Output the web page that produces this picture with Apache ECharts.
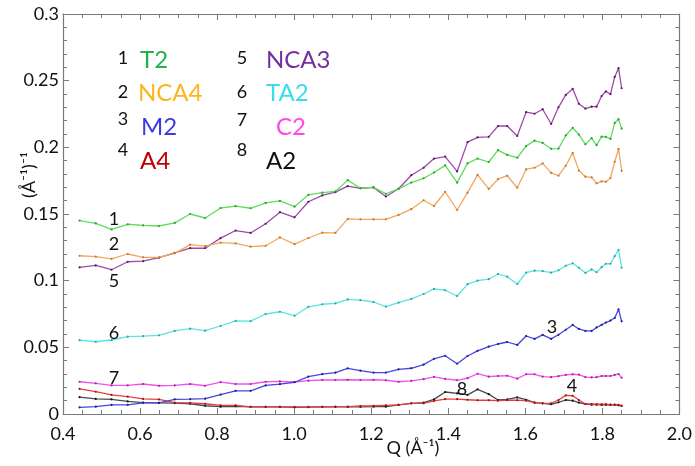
<!DOCTYPE html>
<html>
<head>
<meta charset="utf-8">
<script src="https://cdn.jsdelivr.net/npm/echarts@6/dist/echarts.min.js"></script>
<style>
html, body { margin: 0; padding: 0; background: #ffffff; }
#chart { width: 695px; height: 466px; }
</style>
</head>
<body>
<div id="chart"></div>
<script>
// Scattering vector Q (Å^-1) at which each sample was measured
const q = [0.443,0.485,0.526,0.568,0.608,0.649,0.690,0.730,0.769,0.809,0.848,0.887,0.926,0.963,1.001,1.037,1.073,1.107,1.139,1.172,1.206,1.238,1.271,1.304,1.336,1.363,1.392,1.423,1.450,1.476,1.505,1.529,1.553,1.579,1.602,1.624,1.645,1.667,1.686,1.705,1.723,1.739,1.756,1.772,1.785,1.798,1.809,1.821,1.832,1.842,1.850];

// Inverse correlation length (Å^-1)^-1 for each sample
const t2   = [0.1451,0.1429,0.1384,0.1423,0.1414,0.1410,0.1433,0.1500,0.1470,0.1545,0.1559,0.1543,0.1583,0.1598,0.1555,0.1644,0.1660,0.1669,0.1754,0.1693,0.1700,0.1652,0.1689,0.1736,0.1768,0.1811,0.1865,0.1735,0.1880,0.1916,0.1890,0.1979,0.1943,0.1922,0.2009,0.2050,0.2033,0.1989,0.1990,0.2089,0.2147,0.2096,0.2023,0.2069,0.2016,0.2080,0.2079,0.2063,0.2183,0.2211,0.2141];
const nca4 = [0.1187,0.1180,0.1164,0.1200,0.1175,0.1175,0.1205,0.1270,0.1259,0.1286,0.1279,0.1255,0.1262,0.1324,0.1274,0.1320,0.1361,0.1358,0.1463,0.1460,0.1459,0.1460,0.1493,0.1536,0.1603,0.1560,0.1667,0.1530,0.1660,0.1793,0.1688,0.1761,0.1787,0.1697,0.1834,0.1847,0.1880,0.1808,0.1787,0.1862,0.1958,0.1826,0.1780,0.1775,0.1730,0.1745,0.1742,0.1770,0.1892,0.1988,0.1824];
const m2   = [0.0050,0.0055,0.0068,0.0069,0.0084,0.0083,0.0110,0.0111,0.0115,0.0145,0.0174,0.0174,0.0214,0.0224,0.0238,0.0281,0.0299,0.0310,0.0343,0.0325,0.0311,0.0311,0.0335,0.0343,0.0370,0.0414,0.0437,0.0377,0.0435,0.0474,0.0505,0.0525,0.0540,0.0518,0.0585,0.0563,0.0594,0.0563,0.0594,0.0632,0.0668,0.0638,0.0623,0.0623,0.0649,0.0668,0.0686,0.0701,0.0720,0.0785,0.0695];
const a4   = [0.0188,0.0167,0.0143,0.0130,0.0113,0.0109,0.0085,0.0083,0.0077,0.0065,0.0065,0.0054,0.0053,0.0053,0.0053,0.0053,0.0054,0.0055,0.0056,0.0060,0.0062,0.0065,0.0068,0.0080,0.0080,0.0098,0.0111,0.0111,0.0107,0.0103,0.0103,0.0100,0.0103,0.0103,0.0100,0.0085,0.0080,0.0080,0.0105,0.0140,0.0137,0.0105,0.0075,0.0075,0.0073,0.0073,0.0073,0.0070,0.0070,0.0068,0.0062];
const nca3 = [0.1099,0.1114,0.1082,0.1142,0.1146,0.1172,0.1208,0.1244,0.1243,0.1319,0.1376,0.1358,0.1427,0.1514,0.1475,0.1592,0.1639,0.1664,0.1709,0.1693,0.1699,0.1631,0.1689,0.1791,0.1847,0.1916,0.1931,0.1819,0.2039,0.2075,0.2079,0.2160,0.2160,0.2085,0.2264,0.2252,0.2286,0.2175,0.2300,0.2393,0.2439,0.2327,0.2290,0.2305,0.2305,0.2385,0.2419,0.2399,0.2528,0.2594,0.2443];
const ta2  = [0.0554,0.0542,0.0555,0.0580,0.0584,0.0590,0.0623,0.0640,0.0625,0.0660,0.0698,0.0696,0.0750,0.0767,0.0737,0.0804,0.0823,0.0829,0.0859,0.0854,0.0840,0.0806,0.0835,0.0863,0.0900,0.0938,0.0928,0.0885,0.0974,0.1000,0.1011,0.1050,0.1030,0.0975,0.1061,0.1075,0.1071,0.1060,0.1078,0.1112,0.1130,0.1097,0.1058,0.1085,0.1063,0.1101,0.1127,0.1127,0.1184,0.1232,0.1097];
const c2   = [0.0242,0.0230,0.0214,0.0214,0.0225,0.0212,0.0214,0.0225,0.0212,0.0239,0.0225,0.0225,0.0242,0.0244,0.0240,0.0250,0.0255,0.0255,0.0257,0.0255,0.0257,0.0253,0.0242,0.0248,0.0261,0.0279,0.0264,0.0253,0.0269,0.0302,0.0280,0.0285,0.0287,0.0265,0.0298,0.0298,0.0281,0.0276,0.0284,0.0293,0.0298,0.0295,0.0276,0.0274,0.0276,0.0285,0.0285,0.0285,0.0293,0.0300,0.0272];
const a2   = [0.0126,0.0113,0.0110,0.0094,0.0085,0.0083,0.0081,0.0077,0.0062,0.0055,0.0058,0.0054,0.0053,0.0053,0.0050,0.0051,0.0053,0.0053,0.0053,0.0054,0.0055,0.0055,0.0068,0.0080,0.0085,0.0110,0.0165,0.0154,0.0143,0.0185,0.0149,0.0105,0.0109,0.0124,0.0107,0.0085,0.0080,0.0073,0.0088,0.0105,0.0100,0.0085,0.0075,0.0070,0.0070,0.0068,0.0070,0.0068,0.0068,0.0065,0.0062];

// Sample names and their curve numbers
const sampleNames   = ['T2', 'NCA4', 'M2', 'A4', 'NCA3', 'TA2', 'C2', 'A2'];
const sampleNumbers = ['1', '2', '3', '4', '5', '6', '7', '8'];
const sampleValues  = [t2, nca4, m2, a4, nca3, ta2, c2, a2];

// Axis ranges and tick steps
const xRange = [0.4, 2.0, 0.2];
const yRange = [0, 0.3, 0.05];

const FONT = 'Lato, "Open Sans", sans-serif';

// line colour, point colour, name colour
const palette = [
  ['#5bdf5b', '#2f9e2f', '#22b14c'],
  ['#f3a660', '#c4782e', '#ffb41f'],
  ['#4646de', '#1d1d9a', '#3b3be0'],
  ['#e54040', '#9e1414', '#c00000'],
  ['#9d4ba7', '#5a1a62', '#70309f'],
  ['#5ce3e3', '#2aa6a6', '#38dfe8'],
  ['#f052f0', '#b0209e', '#ff48e6'],
  ['#4a4a4a', '#111111', '#111111']
];

const series = sampleValues.map((vals, i) => ({
  name: sampleNames[i],
  type: 'line',
  data: q.map((x, k) => [x, vals[k]]),
  symbol: 'circle',
  symbolSize: 2.2,
  showSymbol: true,
  lineStyle: { color: palette[i][0], width: 1.3 },
  itemStyle: { color: palette[i][1] },
  z: 3 + (7 - i),
  silent: true,
  animation: false
}));

const tickColor = '#7a7a7a';
function makeX(pos, labels) {
  return {
    type: 'value', position: pos,
    min: xRange[0], max: xRange[1], interval: xRange[2],
    axisLine: { show: true, onZero: false, lineStyle: { color: tickColor, width: 1.2 } },
    axisTick: { show: true, inside: true, length: 6, lineStyle: { color: tickColor } },
    minorTick: { show: true, splitNumber: 4, length: 4, lineStyle: { color: tickColor } },
    splitLine: { show: false },
    axisLabel: labels ? {
      show: true, color: '#111', fontSize: 18, fontFamily: FONT, margin: 11,
      formatter: v => v.toFixed(1)
    } : { show: false }
  };
}
function makeY(pos, labels) {
  return {
    type: 'value', position: pos,
    min: yRange[0], max: yRange[1], interval: yRange[2],
    axisLine: { show: true, onZero: false, lineStyle: { color: tickColor, width: 1.2 } },
    axisTick: { show: true, inside: true, length: 6, lineStyle: { color: tickColor } },
    minorTick: { show: true, splitNumber: 5, length: 4, lineStyle: { color: tickColor } },
    splitLine: { show: false },
    axisLabel: labels ? {
      show: true, color: '#111', fontSize: 18, fontFamily: FONT, margin: 4,
      formatter: v => String(+v.toFixed(2))
    } : { show: false }
  };
}

function txt(x, y, text, size, color, align) {
  return {
    type: 'text', x: x, y: y, silent: true, z: 20,
    style: {
      text: text, fill: color, fontSize: size, fontFamily: FONT,
      align: align || 'left', verticalAlign: 'middle',
      textAlign: align || 'left', textVerticalAlign: 'middle'
    }
  };
}

// Key: number then sample name, two columns
const keyPos = [
  [123, 58, 140, 60], [123, 92, 138, 93], [123, 119, 141, 127], [123, 150, 140, 161],
  [242, 58, 266, 60], [242, 92, 266, 93], [242, 120, 276, 127], [242, 150, 266, 161]
];
const graphics = [];
sampleNames.forEach((nm, i) => {
  const p = keyPos[i];
  graphics.push(txt(p[0], p[1], sampleNumbers[i], 18, '#111', 'center'));
  graphics.push(txt(p[2], p[3], nm, 24, palette[i][2], 'left'));
});

// Curve numbers next to the lines
const curveTags = [
  ['1', 114, 219], ['2', 114, 244], ['5', 114, 281], ['6', 114, 333],
  ['7', 114, 378], ['3', 552, 327], ['8', 462, 389], ['4', 572, 386]
];
curveTags.forEach(t => graphics.push(txt(t[1], t[2], t[0], 18, '#111', 'center')));

// Axis titles
graphics.push(txt(413, 448, 'Q (Å⁻¹)', 18, '#111', 'center'));
graphics.push({
  type: 'text', x: 29, y: 175, rotation: Math.PI / 2, silent: true, z: 20,
  style: {
    text: '(Å⁻¹)⁻¹', fill: '#111', fontSize: 18, fontFamily: FONT,
    align: 'center', verticalAlign: 'middle', textAlign: 'center', textVerticalAlign: 'middle'
  }
});

const chart = echarts.init(document.getElementById('chart'), null, { renderer: 'canvas' });
chart.setOption({
  animation: false,
  backgroundColor: '#ffffff',
  grid: { left: 63, right: 13, top: 14, bottom: 52, containLabel: false },
  xAxis: [makeX('bottom', true), makeX('top', false)],
  yAxis: [makeY('left', true), makeY('right', false)],
  series: series,
  graphic: graphics
});
</script>
</body>
</html>
